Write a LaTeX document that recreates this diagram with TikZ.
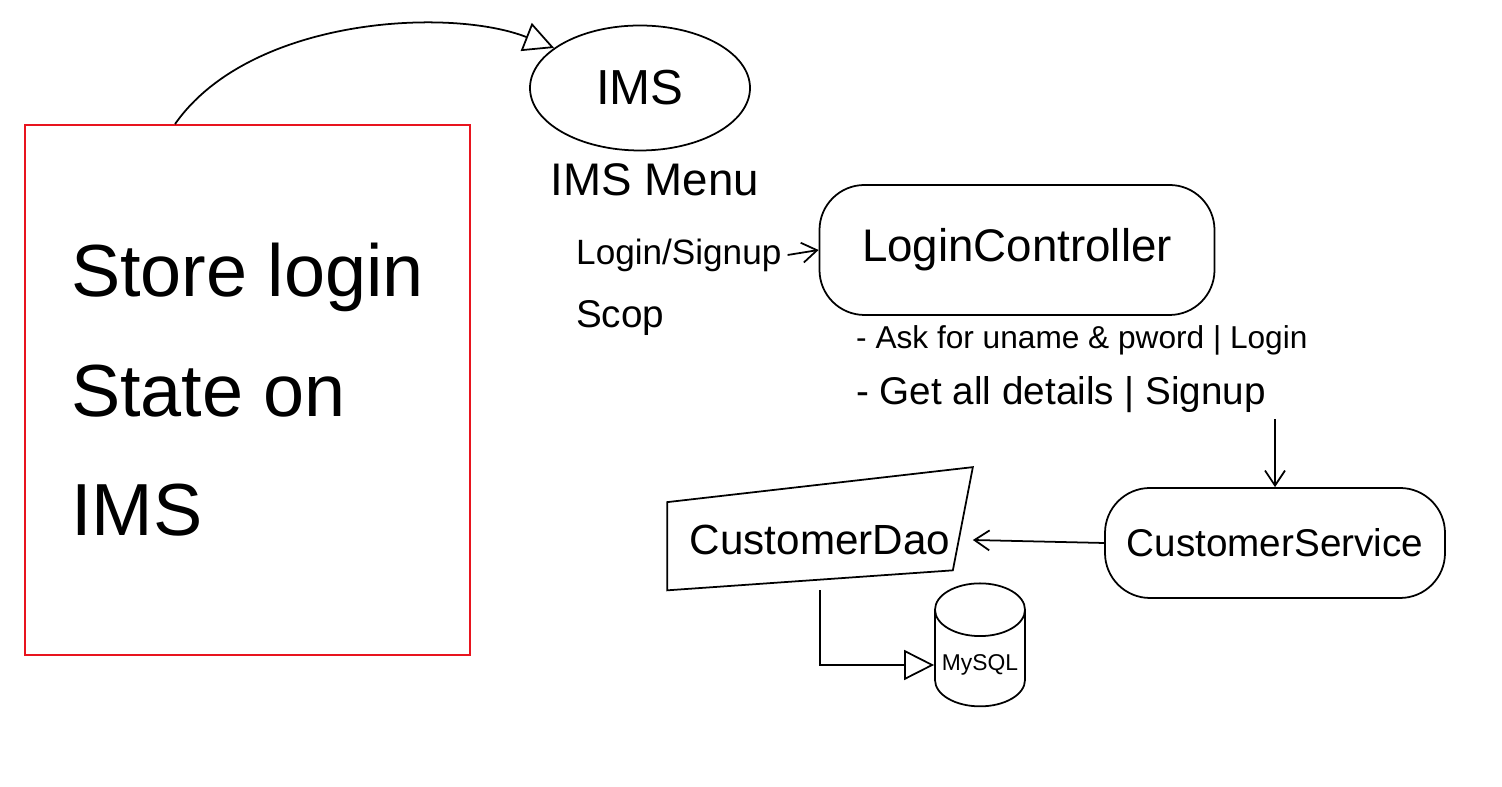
\documentclass[tikz,border=0pt]{standalone}
\usepackage{fontspec}
\setmainfont{Liberation Sans}
\usepackage{xcolor}
\usepackage{tikz}
\usetikzlibrary{calc, arrows.meta, shapes.geometric}
\definecolor{boxRed}{HTML}{E8141E}

\begin{document}
\begin{tikzpicture}[
    pen/.style={line width=1pt, black},
    blob/.style={pen, draw, rounded corners=0.9cm},
    hollow/.style={-{Triangle[open, length=6mm, width=6mm]}},
    barb/.style={-{Straight Barb[length=3mm, width=4mm]}},
]
    \useasboundingbox (0,0) rectangle (30.04,15.74);

    \node[draw=boxRed, line width=1pt, minimum width=8.9cm, minimum height=10.6cm, align=left, font=\fontsize{42}{68}\selectfont] (store) at (4.95,7.94) {Store login\\State on\\IMS};

    \node[ellipse, draw, pen, minimum width=4.4cm, minimum height=2.5cm, font=\fontsize{28}{34}\selectfont] (ims) at (12.8,13.98) {IMS};
    \node[font=\fontsize{26}{30}\selectfont] (menu) at (13.1,12.14) {IMS Menu};
    \node[anchor=west, font=\fontsize{20}{24}\selectfont] (login) at (11.4,10.64) {Login/Signup};
    \node[anchor=west, font=\fontsize{22}{26}\selectfont] (scop) at (11.4,9.38) {Scop};

    \node[blob, minimum width=7.9cm, minimum height=2.6cm, font=\fontsize{26}{30}\selectfont] (ctrl) at (20.34,10.74) {LoginController};
    \node[anchor=west, font=\fontsize{18}{22}\selectfont] (askline) at (17,8.94) {- Ask for uname \& pword | Login};
    \node[anchor=west, font=\fontsize{22}{26}\selectfont] (getline) at (17,7.84) {- Get all details | Signup};

    \node[blob, minimum width=6.8cm, minimum height=2.2cm, font=\fontsize{22}{26}\selectfont] (service) at (25.5,4.88) {CustomerService};
    \node[minimum width=6.1cm, minimum height=2cm, font=\fontsize{24}{28}\selectfont] (dao) at (16.4,4.94) {CustomerDao};
    \draw[pen] ($(dao.north west)+(0,-0.25)$) -- ($(dao.north east)+(0,0.45)$) -- ($(dao.south east)+(-0.4,0.4)$) -- (dao.south west) -- cycle;
    \node[cylinder, draw, pen, shape border rotate=90, aspect=0.6, minimum width=1.8cm, minimum height=2.46cm, font=\fontsize{13}{16}\selectfont] (db) at (19.6,2.44) {MySQL};

    \draw[pen, hollow] ([xshift=-1.45cm]store.north) .. controls (5.0,15.4) and (9.0,15.6) .. (ims.155);
    \draw[pen, barb] (login.east) -- (ctrl.west);
    \draw[pen, barb] (getline.south -| service.north) -- (service.north);
    \draw[pen, barb] (service.west) -- (dao.east);
    \draw[pen, hollow] (dao.south) |- (db.west);
\end{tikzpicture}
\end{document}
